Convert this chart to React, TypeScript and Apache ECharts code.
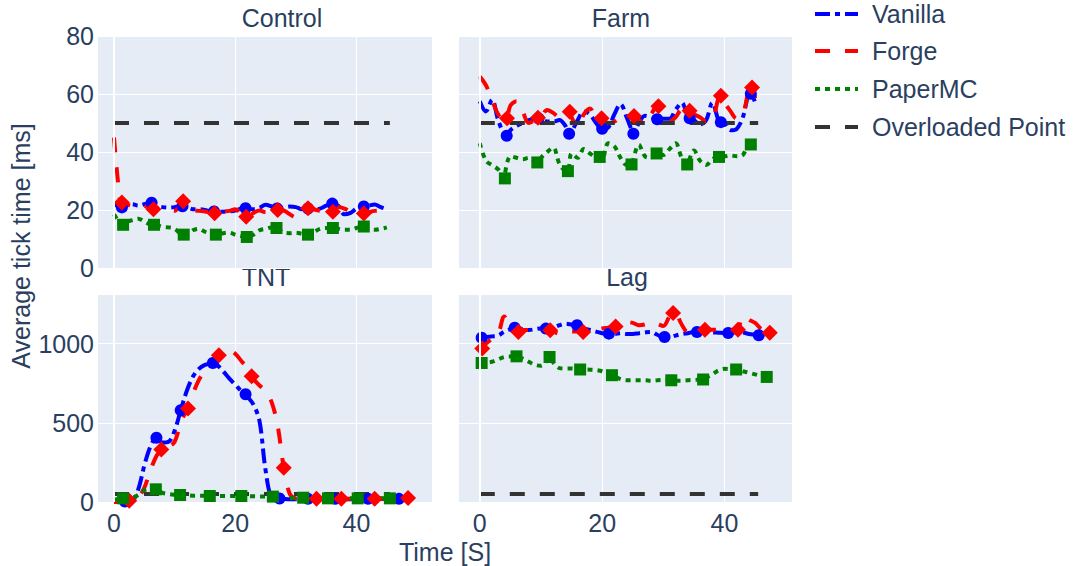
import React, { useEffect, useRef } from "react";
import * as echarts from "echarts";

// ---------------- data (tick time in ms, one sample per second from t = 0) ----------------
const controlVanilla = [22, 21, 21.5, 22, 21.5, 22, 22.5, 21.5, 21, 20.8, 21, 21.5, 21, 20.3, 20.3, 20, 19.5, 19.4, 19.4, 19.5, 19.8, 20.5, 20.5, 20.3, 20.8, 21.8, 21.2, 20.5, 20.8, 21.2, 21, 20.3, 20.5, 20.3, 20.5, 21.5, 22.2, 21.5, 18.5, 19, 20.5, 21.2, 21.5, 21.9, 21, 20.3];
const controlForge = [45, 23, 22, 21.5, 22, 21.5, 20.5, 20.5, 20.5, 20, 19.7, 22.5, 21.5, 20, 19.7, 19.5, 19, 19, 19.5, 19.7, 20.3, 19, 17.7, 19, 19.8, 19.3, 19.5, 20, 19.8, 18.5, 17.5, 19.5, 20.6, 20.2, 19.7, 19.5, 19.4, 21, 20.5, 19.5, 19, 18.8, 19.2, 19.7, 19.8, 19.7];
const controlPaper = [18.5, 15.5, 15.8, 16.5, 17, 16, 15, 14.8, 14.2, 14, 13.5, 11.8, 11.5, 13, 13.5, 12.5, 11.8, 11.5, 12, 12.2, 11.5, 11, 10.7, 11.5, 13, 13.5, 14, 13.6, 12.2, 12, 12.2, 11.8, 11.5, 12.5, 13.5, 13.8, 13.8, 13.5, 13.2, 13.2, 13.8, 14.3, 13.5, 13.2, 13.5, 14];
const controlVanillaMarks = [[1.3, 20.9], [6.2, 22.5], [11.3, 21.3], [16.5, 19.5], [21.7, 20.6], [26.9, 20.5], [32, 20.5], [36, 22.2], [41.2, 21.2]];
const controlForgeMarks = [[1.3, 22.6], [6.5, 20.3], [11.4, 23], [16.6, 18.9], [21.8, 17.7], [27, 20], [32, 20.6], [36.1, 19.4], [41.2, 18.8]];
const controlPaperMarks = [[1.5, 14.9], [6.6, 14.9], [11.5, 11.5], [16.8, 11.5], [21.9, 10.7], [26.8, 13.8], [32, 11.5], [36.1, 13.8], [41.2, 14.3]];

const farmVanilla = [57.5, 54, 58, 51, 46, 47.5, 49, 50, 51, 51.5, 51.5, 50.5, 50.5, 51, 49, 47, 51, 54, 53, 50, 48, 48.5, 53, 56.5, 52, 46.5, 50, 52.5, 52, 51.3, 51.5, 51.5, 54.5, 57, 52, 51, 49.5, 51, 57, 51, 50, 47.5, 48, 52, 60, 57];
const farmForge = [66, 63, 58, 53, 51, 56, 57.5, 54, 50, 51, 52, 54.5, 53.5, 52, 53.5, 52, 48.5, 53, 55, 52, 51.5, 50, 50.5, 52, 53, 52.4, 51, 50, 53, 55.8, 53, 50.5, 52, 54.5, 54.2, 53, 52, 50.5, 51, 58.5, 57, 54, 51.5, 53, 61.5, 58.5];
const farmPaper = [43, 37, 35.5, 34, 31, 38.5, 38, 37.5, 38, 37, 38, 40, 41.5, 36, 33.5, 39.5, 38, 41, 39.5, 38.3, 37.5, 43, 42, 38, 35.5, 37, 42.5, 38.5, 38, 39.5, 39, 41, 43, 38, 36, 40.5, 37, 35.5, 37.5, 38.3, 38.5, 38.8, 38.5, 39, 42.6];
const farmVanillaMarks = [[4.4, 45.6], [9.6, 51.6], [14.6, 46.3], [20, 48], [25.1, 46.3], [29, 51.3], [34.3, 51.6], [39.4, 50.3], [44.3, 60.1]];
const farmForgeMarks = [[4.45, 51.6], [9.5, 51.8], [14.7, 53.9], [19.9, 51.6], [25.2, 52.4], [29.2, 55.8], [34.3, 54.2], [39.4, 59.4], [44.5, 62.2]];
const farmPaperMarks = [[4.1, 30.9], [9.4, 36.4], [14.4, 33.4], [19.6, 38.3], [24.8, 35.7], [28.9, 39.5], [33.9, 35.7], [39.1, 38.3], [44.3, 42.6]];

const tntVanilla = [0, 0, 2, 8, 80, 230, 350, 405, 375, 380, 450, 579, 700, 790, 840, 865, 875, 865, 825, 780, 740, 700, 665, 615, 510, 200, 30, 22, 20, 18, 18, 18, 20, 18, 18, 18, 20, 18, 18, 18, 20, 18, 18, 18, 20, 18, 18, 20];
const tntForge = [0, 0, 5, 10, 30, 90, 200, 290, 335, 350, 380, 500, 580, 680, 770, 831, 880, 920, 950, 955, 935, 890, 845, 775, 735, 700, 630, 480, 216, 50, 22, 20, 20, 20, 20, 20, 20, 20, 20, 20, 20, 20, 20, 20, 20, 22, 22, 24, 25];
const tntPaper = [15, 22, 20, 25, 45, 75, 85, 78, 58, 50, 46, 44, 42, 40, 40, 39, 38, 38, 38, 38, 38, 38, 37, 36, 35, 34, 34, 30, 25, 24, 26, 27, 25, 24, 23, 23, 23, 23, 23, 23, 23, 23, 23, 23, 23, 23, 23];
const tntVanillaMarks = [[1.8, 3], [7, 405], [11, 579], [16.3, 877], [21.7, 680], [27.3, 22], [32, 20], [36.5, 20], [41.9, 20], [47, 20]];
const tntForgeMarks = [[2.5, 8], [7.8, 332], [12.2, 590], [17.3, 926], [22.7, 793], [28, 216], [33.4, 20], [37.5, 20], [43, 20], [48.5, 25]];
const tntPaperMarks = [[1.5, 23], [6.9, 80], [10.9, 44], [15.8, 38], [21, 38], [26.2, 34], [31.2, 27], [35.3, 23], [40.2, 23], [45.5, 23]];

const lagVanilla = [1035, 1040, 1045, 1050, 1075, 1090, 1100, 1090, 1085, 1090, 1095, 1095, 1100, 1115, 1125, 1120, 1112, 1095, 1085, 1075, 1065, 1062, 1060, 1065, 1060, 1060, 1065, 1070, 1073, 1055, 1040, 1040, 1050, 1060, 1065, 1073, 1075, 1070, 1070, 1068, 1066, 1068, 1072, 1070, 1060, 1055, 1052];
const lagForge = [960, 1000, 1030, 1060, 1170, 1110, 1075, 1085, 1085, 1090, 1085, 1083, 1075, 1062, 1065, 1075, 1075, 1070, 1075, 1085, 1095, 1100, 1108, 1125, 1135, 1130, 1115, 1120, 1135, 1125, 1110, 1170, 1190, 1120, 1073, 1080, 1087, 1090, 1087, 1087, 1090, 1085, 1090, 1175, 1150, 1130, 1090, 1070];
const lagPaper = [877, 880, 885, 900, 915, 918, 919, 905, 885, 865, 860, 895, 880, 845, 842, 842, 838, 836, 835, 832, 825, 810, 795, 775, 768, 768, 768, 768, 765, 768, 770, 768, 765, 765, 768, 770, 772, 785, 805, 830, 840, 838, 836, 825, 815, 805, 795, 789];
const lagVanillaMarks = [[0.3, 1037], [5.7, 1100], [10.8, 1094], [15.9, 1115], [21.1, 1062], [30.2, 1041], [35.5, 1073], [40.6, 1066], [45.6, 1052]];
const lagForgeMarks = [[0.4, 968], [6.3, 1073], [11.5, 1083], [16.9, 1073], [22.2, 1108], [31.6, 1192], [36.8, 1087], [42.2, 1087], [47.4, 1068]];
const lagPaperMarks = [[0.3, 877], [6, 919], [11.4, 915], [16.4, 836], [21.6, 800], [31.3, 768], [36.5, 773], [41.9, 836], [46.9, 789]];

const overloadTimes = [0, 45.5];
const overloadLimit = 50;

const panelTitles = ["Control", "Farm", "TNT", "Lag"];
const topTicks = [0, 20, 40, 60, 80];
const bottomTicks = [0, 500, 1000];
const timeTicks = [0, 20, 40];
const legendNames = ["Vanilla", "Forge", "PaperMC", "Overloaded Point"];

// ---------------- styling ----------------
const FONT = '"Liberation Sans", Arial, Helvetica, sans-serif';
const TEXT = "#2a3f5f";
const BG = "#E5ECF6";
const servers = [
  { color: "#0000ff", dash: [15, 5, 5, 5], symbol: "circle", size: 12 },
  { color: "#ff0000", dash: [15, 15], symbol: "diamond", size: 16 },
  { color: "#008000", dash: [5, 5], symbol: "rect", size: 12 },
];
const overloadStyle = { color: "#333333", dash: [15, 15] };

const panels = [
  { grid: { left: 98, top: 36, width: 334, height: 232 }, xr: [-2.64, 52.45], top: true, showX: false, showY: true, titleX: 282, titleY: 18,
    lines: [controlVanilla, controlForge, controlPaper], marks: [controlVanillaMarks, controlForgeMarks, controlPaperMarks] },
  { grid: { left: 459, top: 36, width: 333, height: 232 }, xr: [-3.4, 51.03], top: true, showX: false, showY: false, titleX: 621, titleY: 18,
    lines: [farmVanilla, farmForge, farmPaper], marks: [farmVanillaMarks, farmForgeMarks, farmPaperMarks] },
  { grid: { left: 98, top: 295, width: 334, height: 207 }, xr: [-2.64, 52.45], top: false, showX: true, showY: true, titleX: 266, titleY: 277,
    lines: [tntVanilla, tntForge, tntPaper], marks: [tntVanillaMarks, tntForgeMarks, tntPaperMarks] },
  { grid: { left: 459, top: 295, width: 333, height: 207 }, xr: [-3.4, 51.03], top: false, showX: true, showY: false, titleX: 627, titleY: 277,
    lines: [lagVanilla, lagForge, lagPaper], marks: [lagVanillaMarks, lagForgeMarks, lagPaperMarks] },
];

function merged(values: number[], marks: number[][]) {
  const markX = new Set(marks.map((m) => m[0]));
  const pts = values.map((v, i) => [i, v]).filter((p) => !markX.has(p[0]));
  return [...pts, ...marks].sort((a, b) => a[0] - b[0]);
}

function buildOption() {
  const grid: any[] = [];
  const xAxis: any[] = [];
  const yAxis: any[] = [];
  const series: any[] = [];
  const graphic: any[] = [];

  panels.forEach((p, i) => {
    grid.push({ ...p.grid, show: true, backgroundColor: BG, borderWidth: 0, containLabel: false });
    xAxis.push({
      type: "value", gridIndex: i, min: p.xr[0], max: p.xr[1],
      axisLine: { show: false },
      axisTick: { show: false, customValues: timeTicks },
      axisLabel: { show: p.showX, customValues: timeTicks, color: TEXT, fontSize: 25, fontFamily: FONT, margin: 8,
        formatter: (v: number) => String(v) },
      splitLine: { show: true, lineStyle: { color: "#ffffff", width: 1 } },
    });
    const ticks = p.top ? topTicks : bottomTicks;
    yAxis.push({
      type: "value", gridIndex: i, min: 0, max: p.top ? 80 : 1306,
      axisLine: { show: false },
      axisTick: { show: false, customValues: ticks },
      axisLabel: { show: p.showY, customValues: ticks, color: TEXT, fontSize: 25, fontFamily: FONT, margin: 4,
        formatter: (v: number) => String(v) },
      splitLine: { show: true, lineStyle: { color: "#ffffff", width: 1 } },
    });
    // zero line of the time axis
    series.push({
      type: "line", xAxisIndex: i, yAxisIndex: i, data: [], z: 1, silent: true,
      markLine: { silent: true, symbol: ["none", "none"], label: { show: false }, animation: false,
        lineStyle: { color: "#ffffff", width: 2, type: "solid" }, data: [{ xAxis: 0 }] },
    });
    servers.forEach((s, k) => {
      series.push({
        type: "line", name: legendNames[k], xAxisIndex: i, yAxisIndex: i,
        data: merged(p.lines[k], p.marks[k]),
        showSymbol: false, symbol: "none", smooth: 0.35, z: 2,
        lineStyle: { color: s.color, width: 4, type: s.dash },
      });
    });
    series.push({
      type: "line", name: legendNames[3], xAxisIndex: i, yAxisIndex: i,
      data: overloadTimes.map((t) => [t, overloadLimit]),
      showSymbol: false, symbol: "none", z: 3,
      lineStyle: { color: overloadStyle.color, width: 4, type: overloadStyle.dash },
    });
    servers.forEach((s, k) => {
      series.push({
        type: "scatter", name: legendNames[k], xAxisIndex: i, yAxisIndex: i,
        data: p.marks[k], symbol: s.symbol, symbolSize: s.size, z: 4,
        itemStyle: { color: s.color, opacity: 1 },
      });
    });
    graphic.push({
      type: "text", x: p.titleX, y: p.titleY,
      style: { text: panelTitles[i], fill: TEXT, fontSize: 25, fontFamily: FONT, align: "center", verticalAlign: "middle" },
    });
  });

  // legend
  const legendStyles = [...servers.map((s) => ({ color: s.color, dash: s.dash })), overloadStyle];
  const legendY = [14, 51, 89, 127];
  legendNames.forEach((name, k) => {
    graphic.push({
      type: "line", shape: { x1: 815, y1: legendY[k], x2: 858, y2: legendY[k] },
      style: { stroke: legendStyles[k].color, lineWidth: 4, lineDash: legendStyles[k].dash },
    });
    graphic.push({
      type: "text", x: 872, y: legendY[k],
      style: { text: name, fill: TEXT, fontSize: 25, fontFamily: FONT, align: "left", verticalAlign: "middle" },
    });
  });

  graphic.push({
    type: "text", x: 21, y: 246, rotation: Math.PI / 2,
    style: { text: "Average tick time [ms]", fill: TEXT, fontSize: 25, fontFamily: FONT, align: "center", verticalAlign: "middle" },
  });
  graphic.push({
    type: "text", x: 445, y: 552,
    style: { text: "Time [S]", fill: TEXT, fontSize: 25, fontFamily: FONT, align: "center", verticalAlign: "middle" },
  });

  return {
    animation: false,
    backgroundColor: "#ffffff",
    textStyle: { fontFamily: FONT },
    grid, xAxis, yAxis, series, graphic,
  };
}

export default function App() {
  const ref = useRef<HTMLDivElement>(null);
  useEffect(() => {
    const chart = echarts.init(ref.current as HTMLDivElement, null, { renderer: "svg" });
    chart.setOption(buildOption() as any);
    return () => chart.dispose();
  }, []);
  return (
    <div
      ref={ref}
      style={{ position: "fixed", left: 0, top: 0, width: 1081, height: 566, background: "#ffffff" }}
    />
  );
}
